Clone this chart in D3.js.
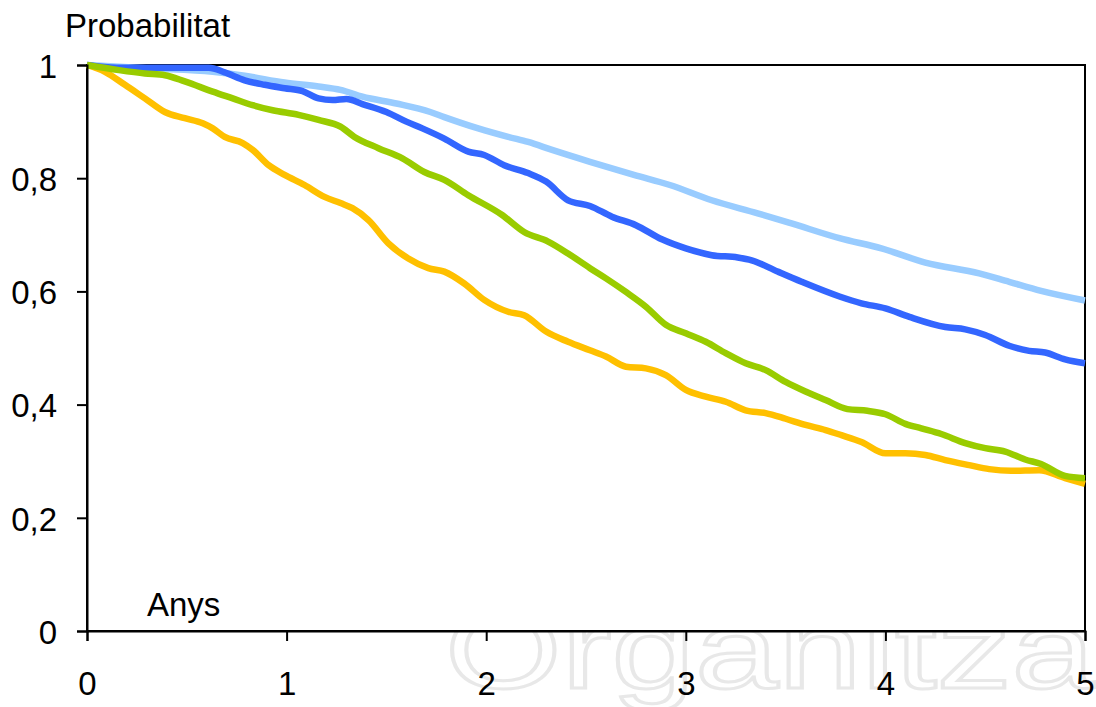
<!DOCTYPE html>
<html>
<head>
<meta charset="utf-8">
<script src="https://cdn.jsdelivr.net/npm/d3@7"></script>
<style>
  body { margin: 0; background: #fff; }
  svg { display: block; font-family: "Liberation Sans", Arial, sans-serif; }
</style>
</head>
<body>
<div id="chart"></div>
<script>
// survival curves: [years, probability]
const lightBlue = [[0,1],[0.32,0.994],[0.63,0.988],[0.79,0.981],[0.99,0.969],[1.16,0.962],[1.27,0.956],[1.38,0.944],[1.55,0.932],[1.72,0.917],[1.79,0.908],[1.96,0.888],[2.11,0.873],[2.21,0.864],[2.33,0.850],[2.52,0.829],[2.74,0.806],[2.92,0.788],[3.13,0.761],[3.36,0.738],[3.53,0.720],[3.77,0.694],[3.98,0.676],[4.20,0.651],[4.47,0.632],[4.62,0.617],[4.78,0.601],[5,0.584]];

const blue = [[0,1],[0.15,0.995],[0.32,0.995],[0.61,0.995],[0.69,0.987],[0.79,0.973],[0.89,0.965],[0.99,0.959],[1.08,0.954],[1.16,0.941],[1.23,0.938],[1.30,0.940],[1.38,0.931],[1.50,0.917],[1.60,0.900],[1.68,0.888],[1.79,0.870],[1.91,0.847],[1.99,0.841],[2.09,0.823],[2.21,0.809],[2.30,0.794],[2.41,0.761],[2.52,0.751],[2.63,0.732],[2.75,0.717],[2.88,0.692],[3.00,0.676],[3.13,0.664],[3.26,0.660],[3.33,0.655],[3.46,0.635],[3.58,0.617],[3.77,0.591],[3.88,0.579],[4.00,0.570],[4.12,0.555],[4.30,0.537],[4.40,0.533],[4.50,0.523],[4.62,0.504],[4.72,0.495],[4.80,0.492],[4.90,0.480],[5,0.473]];

const orange = [[0,1],[0.09,0.988],[0.19,0.965],[0.29,0.941],[0.39,0.917],[0.49,0.906],[0.58,0.897],[0.63,0.888],[0.69,0.873],[0.78,0.862],[0.83,0.850],[0.91,0.823],[0.99,0.806],[1.09,0.788],[1.19,0.767],[1.27,0.756],[1.33,0.747],[1.41,0.726],[1.51,0.685],[1.61,0.658],[1.71,0.641],[1.79,0.635],[1.89,0.614],[1.99,0.585],[2.11,0.564],[2.19,0.558],[2.30,0.529],[2.41,0.511],[2.52,0.496],[2.60,0.485],[2.70,0.467],[2.80,0.464],[2.90,0.452],[3.00,0.426],[3.10,0.414],[3.20,0.405],[3.30,0.390],[3.40,0.385],[3.50,0.375],[3.60,0.364],[3.70,0.355],[3.78,0.346],[3.88,0.334],[4.00,0.314],[4.10,0.314],[4.20,0.311],[4.30,0.302],[4.42,0.293],[4.52,0.286],[4.63,0.283],[4.77,0.284],[4.90,0.270],[5,0.260]];

const green = [[0,1],[0.16,0.991],[0.29,0.985],[0.39,0.982],[0.49,0.971],[0.63,0.953],[0.73,0.941],[0.83,0.929],[0.93,0.920],[1.06,0.912],[1.16,0.903],[1.27,0.891],[1.34,0.873],[1.46,0.853],[1.58,0.835],[1.69,0.811],[1.79,0.797],[1.91,0.770],[2.08,0.735],[2.19,0.705],[2.31,0.688],[2.41,0.667],[2.52,0.641],[2.60,0.623],[2.70,0.599],[2.80,0.573],[2.90,0.541],[3.00,0.526],[3.10,0.511],[3.20,0.491],[3.30,0.473],[3.40,0.461],[3.50,0.440],[3.60,0.423],[3.70,0.408],[3.81,0.392],[3.91,0.389],[4.00,0.383],[4.10,0.366],[4.18,0.358],[4.28,0.348],[4.40,0.332],[4.50,0.323],[4.60,0.317],[4.70,0.303],[4.78,0.295],[4.90,0.274],[5,0.270]];

const series = [
  {name: "lightBlue", color: "#99ccff", values: lightBlue},
  {name: "blue", color: "#3366ff", values: blue},
  {name: "orange", color: "#ffc000", values: orange},
  {name: "green", color: "#99cc00", values: green}
];

const xTicks = [0, 1, 2, 3, 4, 5];
const yTicks = [0, 0.2, 0.4, 0.6, 0.8, 1];

const width = 1096, height = 707;
const margins = {top: 65, right: 11, bottom: 76, left: 87};

const svg = d3.select("#chart")
  .append("svg")
  .attr("width", width)
  .attr("height", height);

// faint watermark behind the plot
svg.append("text")
  .attr("x", 445)
  .attr("y", 688)
  .attr("textLength", 650)
  .attr("lengthAdjust", "spacingAndGlyphs")
  .style("font-size", "110px")
  .style("font-weight", 300)
  .style("fill", "none")
  .style("stroke", "#e8e8e8")
  .style("stroke-width", 3)
  .text("Organitza");

const xScale = d3.scaleLinear()
  .domain([0, 5])
  .range([margins.left, width - margins.right]);

const yScale = d3.scaleLinear()
  .domain([0, 1])
  .range([height - margins.bottom, margins.top]);

svg.append("rect")
  .attr("x", xScale(0))
  .attr("y", yScale(1))
  .attr("width", xScale(5) - xScale(0))
  .attr("height", yScale(0) - yScale(1))
  .attr("fill", "#fff")
  .attr("stroke", "#000")
  .attr("stroke-width", 2);

const line = d3.line()
  .curve(d3.curveMonotoneX)
  .x(d => xScale(d[0]))
  .y(d => yScale(d[1]));

svg.append("g")
  .selectAll("path")
  .data(series)
  .join("path")
    .attr("class", d => d.name)
    .attr("d", d => line(d.values))
    .style("fill", "none")
    .style("stroke", d => d.color)
    .style("stroke-width", 6.5)
    .style("stroke-linejoin", "round");

const comma = d3.formatLocale({decimal: ",", thousands: ".", grouping: [3], currency: ["", "€"]}).format("~g");

const yAxis = d3.axisLeft(yScale)
  .tickValues(yTicks)
  .tickFormat(comma)
  .tickSize(10)
  .tickPadding(20);

svg.append("g")
    .attr("transform", `translate(${margins.left},0)`)
  .call(yAxis)
  .call(g => g.select(".domain").attr("stroke-width", 2))
  .call(g => g.selectAll(".tick line").attr("stroke-width", 2))
  .call(g => g.selectAll(".tick text")
    .attr("dy", "0.37em")
    .style("font-size", "33px")
    .style("font-family", "'Liberation Sans', Arial, sans-serif")
    .attr("fill", "#000"));

const xAxis = d3.axisBottom(xScale)
  .tickValues(xTicks)
  .tickFormat(d3.format("d"))
  .tickSize(10)
  .tickPadding(31);

svg.append("g")
    .attr("transform", `translate(0,${height - margins.bottom})`)
  .call(xAxis)
  .call(g => g.select(".domain").attr("stroke-width", 2))
  .call(g => g.selectAll(".tick line").attr("stroke-width", 2))
  .call(g => g.selectAll(".tick text")
    .style("font-size", "33px")
    .style("font-family", "'Liberation Sans', Arial, sans-serif")
    .attr("fill", "#000"));

svg.append("text")
  .attr("x", 65)
  .attr("y", 36.5)
  .style("font-size", "33px")
  .text("Probabilitat");

svg.append("text")
  .attr("x", 147)
  .attr("y", 616)
  .style("font-size", "33px")
  .text("Anys");
</script>
</body>
</html>
